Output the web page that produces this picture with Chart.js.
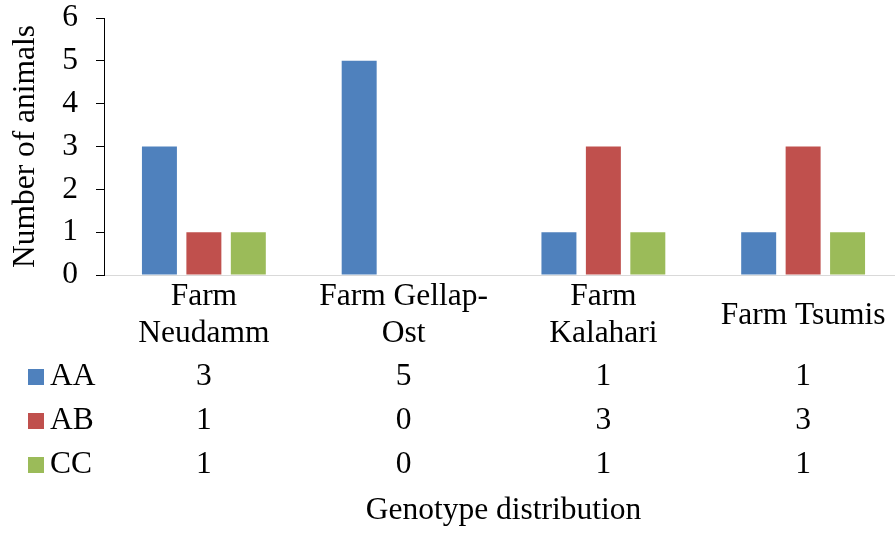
<!DOCTYPE html>
<html>
<head>
<meta charset="utf-8">
<script src="https://cdn.jsdelivr.net/npm/chart.js@4/dist/chart.umd.min.js"></script>
<style>
  html, body { margin: 0; padding: 0; background: #fff; overflow: hidden; }
  canvas { display: block; }
</style>
</head>
<body>
<canvas id="c" width="903" height="533"></canvas>
<script>
// Farms (x categories) and genotype counts per farm
const farms = [["Farm", "Neudamm"], ["Farm Gellap-", "Ost"], ["Farm", "Kalahari"], "Farm Tsumis"];
const genotypes = ["AA", "AB", "CC"];
const countsAA = [3, 5, 1, 1];
const countsAB = [1, 0, 3, 3];
const countsCC = [1, 0, 1, 1];
const yTicks = [0, 1, 2, 3, 4, 5, 6];

const colors = ["#4F81BD", "#C0504D", "#9BBB59"];
const FONT = "'Liberation Serif', 'Times New Roman', serif";
const SIZE = 31.5;

// Data table under the axis: a colour key, the genotype name and one count per farm
const dataTable = {
  id: "dataTable",
  afterDraw(chart) {
    const ctx = chart.ctx;
    const x = chart.scales.x;
    const rowY = [377, 421, 465];
    ctx.save();
    ctx.font = SIZE + "px " + FONT;
    ctx.textBaseline = "middle";
    chart.data.datasets.forEach((ds, r) => {
      const y = rowY[r];
      ctx.fillStyle = ds.backgroundColor;
      ctx.fillRect(28, y - 8, 16, 16);
      ctx.fillStyle = "#000";
      ctx.textAlign = "left";
      ctx.fillText(ds.label, 50, y);
      ctx.textAlign = "center";
      ds.data.forEach((v, i) => {
        ctx.fillText(String(v), x.getPixelForValue(i), y);
      });
    });
    ctx.restore();
  }
};

new Chart(document.getElementById("c"), {
  type: "bar",
  data: {
    labels: farms,
    datasets: [
      { label: genotypes[0], data: countsAA, backgroundColor: colors[0] },
      { label: genotypes[1], data: countsAB, backgroundColor: colors[1] },
      { label: genotypes[2], data: countsCC, backgroundColor: colors[2] }
    ]
  },
  options: {
    responsive: false,
    animation: false,
    events: [],
    layout: { padding: { top: 18, left: 0, right: 0, bottom: 0 } },
    datasets: { bar: { barPercentage: 0.787, categoryPercentage: 0.6675 } },
    plugins: { legend: { display: false }, tooltip: { enabled: false } },
    scales: {
      x: {
        offset: true,
        grid: { display: false, drawTicks: false },
        border: { display: true, color: "#d9d9d9", width: 1 },
        ticks: {
          color: "#000",
          font: { family: FONT, size: SIZE, lineHeight: 1.175 },
          padding: 22,
          crossAlign: "center",
          maxRotation: 0,
          autoSkip: false
        },
        title: {
          display: true,
          text: "Genotype distribution",
          color: "#000",
          font: { family: FONT, size: SIZE, lineHeight: 1.2 },
          padding: { top: 0, bottom: 3 }
        },
        afterFit(scale) {
          scale.height = 258;
          scale.paddingLeft = 0;
          scale.paddingRight = 0;
        }
      },
      y: {
        min: yTicks[0],
        max: yTicks[yTicks.length - 1],
        afterBuildTicks(scale) { scale.ticks = yTicks.map(v => ({ value: v })); },
        grid: { drawOnChartArea: false, drawTicks: true, tickLength: 8, color: "#000" },
        border: { display: true, color: "#000", width: 1 },
        ticks: {
          color: "#000",
          font: { family: FONT, size: SIZE, lineHeight: 1 },
          padding: 18
        },
        title: {
          display: true,
          text: "Number of animals",
          color: "#000",
          font: { family: FONT, size: SIZE, lineHeight: 1.2 },
          padding: { top: 7, bottom: 0 }
        },
        afterFit(scale) {
          scale.width = 104;
          scale.paddingTop = 0;
          scale.paddingBottom = 0;
        }
      }
    }
  },
  plugins: [dataTable]
});
</script>
</body>
</html>
